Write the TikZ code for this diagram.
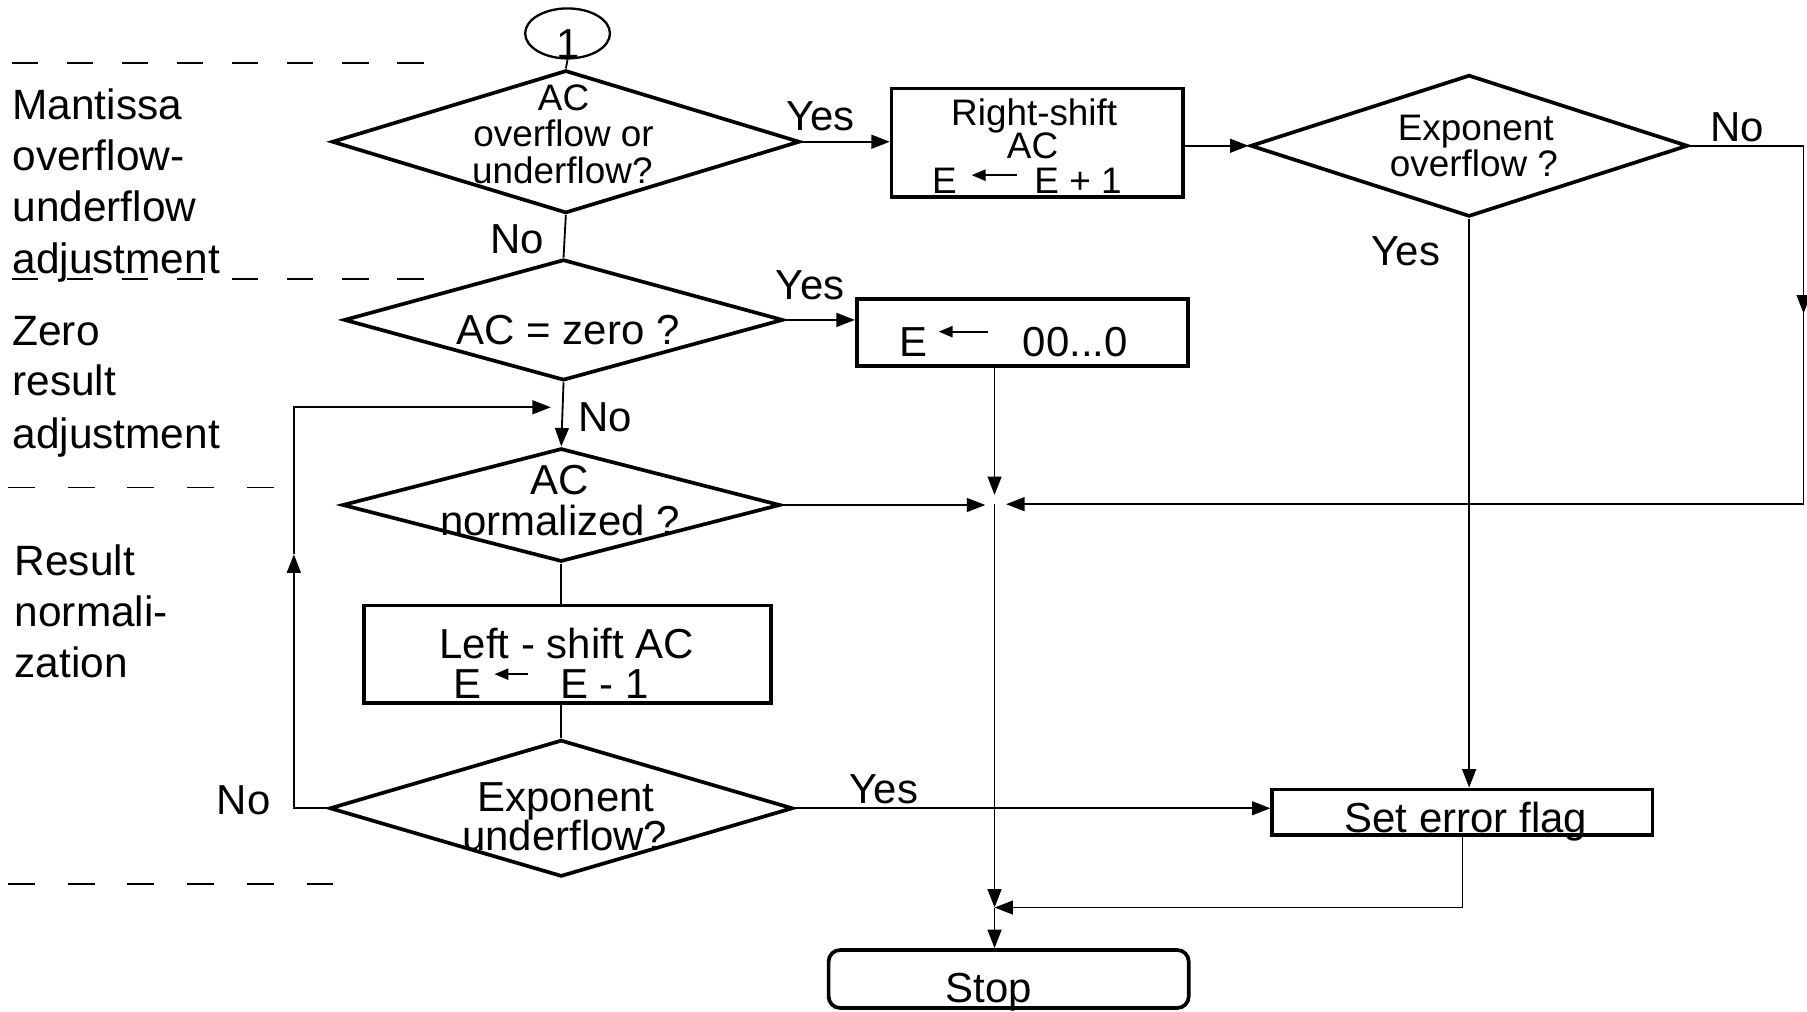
\documentclass[tikz,border=0pt]{standalone}
\usepackage{fontspec}
\setmainfont{Liberation Sans}
\usetikzlibrary{shapes.geometric,arrows.meta}

\newcommand{\setfs}[2]{\fontsize{#1}{#2}\selectfont}
\newcommand{\getsarrow}[2]{\tikz[baseline=-#2]\draw[line width=0.9pt,-{Triangle[length=6pt,width=4.8pt]}] (#1,0pt) -- (0pt,0pt);}

\tikzset{every picture/.style={line width=0.8pt}}
\tikzset{
  flowdia/.style={draw, shape=diamond, line width=1.6pt, inner sep=0pt},
  flowbox/.style={draw, shape=rectangle, line width=1.6pt, inner sep=0pt},
  conn/.style={-{Triangle[length=8pt,width=6pt]}},
  sepa/.style={dash pattern=on 11.5pt off 12.4pt},
  sepb/.style={dash pattern=on 11.6pt off 14.3pt},
  sidetxt/.style={inner sep=0pt, anchor=base west, font=\setfs{18.4}{20}},
  txtbig/.style={inner sep=0pt, anchor=base, font=\setfs{18.2}{20}},
  txtsmall/.style={inner sep=0pt, anchor=base, font=\setfs{16}{18}},
}

\begin{document}
\begin{tikzpicture}[x=0.5pt,y=0.5pt,yscale=-1,xscale=1]
\useasboundingbox (0,0) rectangle (1568,878);

%Dashed separators
\draw [sepa] (10,55) -- (368,55) ;
\draw [sepa] (10,242.4) -- (368,242.4) ;
\draw [sepb] (7,423) -- (238,423) ;
\draw [sepb] (7,767) -- (289,767) ;

%Shape: Ellipse
\node [draw, ellipse, line width=1pt, inner sep=0pt, minimum width=36.8pt, minimum height=21.7pt] (c1) at (492.5,29) {};
%Shape: Diamond
\node [flowdia, minimum width=203pt, minimum height=62pt] (d1) at (491,123) {};
%Shape: Rectangle
\node [flowbox, minimum width=126.5pt, minimum height=47pt] (b1) at (900.2,123.7) {};
%Shape: Diamond
\node [flowdia, minimum width=189.8pt, minimum height=61.5pt] (d3) at (1274.8,126.5) {};
%Shape: Diamond
\node [flowdia, minimum width=190.5pt, minimum height=52.5pt] (d2) at (489,277.6) {};
%Shape: Rectangle
\node [flowbox, minimum width=143.8pt, minimum height=28.95pt] (b2) at (887.2,288.65) {};
%Shape: Diamond
\node [flowdia, minimum width=190pt, minimum height=49.2pt] (d4) at (487,438.2) {};
%Shape: Rectangle
\node [flowbox, minimum width=176.5pt, minimum height=42.25pt] (b3) at (492.5,567.75) {};
%Shape: Diamond
\node [flowdia, minimum width=201pt, minimum height=59.35pt] (d5) at (487,701.35) {};
%Shape: Rectangle
\node [flowbox, minimum width=165pt, minimum height=19.8pt] (b4) at (1269,704.8) {};
%Shape: Rounded Rect
\node [flowbox, rounded corners=5pt, minimum width=156.25pt, minimum height=25.15pt] (stop) at (875.25,849.5) {};

%Junctions
\coordinate (jA) at (863,437.5) ;
\coordinate (jB) at (863,787.5) ;
\coordinate (rdrop) at (1565,272) ;
\coordinate (lup) at (255,481) ;
\coordinate (lin) at (478,353.4) ;

%Straight Lines
\draw (c1.south) -- (d1.north) ;
\draw [conn] (d1.east) -- (d1.east -| b1.west) ;
\draw [conn] (b1.east |- d3.west) -- (d3.west) ;
\draw [conn] (d3.east) -| (rdrop) ;
\draw [conn, shorten >=5pt] (rdrop) |- (jA) ;
\draw [conn] (d3.south) -- (d3.south |- b4.north) ;
\draw (d1.south) -- (d2.north) ;
\draw [conn] (d2.east) -- (d2.east -| b2.west) ;
\draw [conn, shorten >=4pt] (b2.south -| jA) -- (jA) ;
\draw [conn] (d2.south) -- (d4.north) ;
\draw [conn, shorten >=4pt] (d4.east) -- (d4.east -| jA) ;
\draw [conn] (jA) -- (jB) ;
\draw [conn] (b4.south) |- (jB) ;
\draw [conn] (jB) -- (jB |- stop.north) ;
\draw (d4.south) -- (d4.south |- b3.north) ;
\draw (b3.south -| d5.north) -- (d5.north) ;
\draw [conn] (d5.east) -- (d5.east -| b4.west) ;
\draw [conn] (d5.west) -| (lup) ;
\draw [conn] (lup) |- (lin) ;

% Text Node
\node [sidetxt] (mant1) at (10,104) {Mantissa};
\node [sidetxt] (mant2) at (10,148) {overflow-};
\node [sidetxt] (mant3) at (10,192.5) {underflow};
\node [sidetxt] (mant4) at (10,237) {adjustment};
% Text Node
\node [sidetxt] (zero1) at (10,299.4) {Zero};
\node [sidetxt] (zero2) at (10,343.6) {result};
\node [sidetxt] (zero3) at (10,388.8) {adjustment};
% Text Node
\node [sidetxt] (res1) at (12,499) {Result};
\node [sidetxt] (res2) at (12,543.8) {normali-};
\node [sidetxt] (res3) at (12,587.8) {zation};

% Text Node
\node [txtbig] (one) at (493,50.6) {1};
% Text Node
\node [txtsmall] (d1t1) at (489,95.5) {AC};
\node [txtsmall] (d1t2) at (489,127.5) {overflow or};
\node [txtsmall] (d1t3) at (488,159.5) {underflow?};
% Text Node
\node [txtsmall] (b1t1) at (897.4,108.5) {Right-shift};
\node [txtsmall] (b1t2) at (896,137.4) {AC};
\node [txtsmall, anchor=base west] (b1t3) at (808.5,168) {E\hspace{6pt}\getsarrow{19.5pt}{8pt}\hspace{7.3pt}E + 1};
% Text Node
\node [txtsmall] (d3t1) at (1280.5,121.5) {Exponent};
\node [txtsmall] (d3t2) at (1279,153.5) {overflow ?};
% Text Node
\node [txtbig] (d2t) at (493,298.5) {AC = zero ?};
% Text Node
\node [txtbig, anchor=base west] (b2t) at (780,309.5) {E\hspace{4.5pt}\getsarrow{21.5pt}{10.85pt}\hspace{14.5pt}00...0};
% Text Node
\node [txtbig] (d4t1) at (486,429.5) {AC};
\node [txtbig] (d4t2) at (486,464.5) {normalized ?};
% Text Node
\node [txtbig] (b3t1) at (491.7,571) {Left - shift AC};
\node [txtbig, anchor=base west] (b3t2) at (393.5,606) {E\hspace{5pt}\getsarrow{14.5pt}{10.5pt}\hspace{13.5pt}E - 1};
% Text Node
\node [txtbig] (d5t1) at (491,704.5) {Exponent};
\node [txtbig] (d5t2) at (490,738) {underflow?};
% Text Node
\node [txtbig] (b4t) at (1272,722) {Set error flag};
\node [txtbig] (stopt) at (858,870) {Stop};

% Text Node
\node [txtbig] (yes1) at (712,113) {Yes};
\node [txtbig] (no1) at (449,220) {No};
\node [txtbig] (yes2) at (703,260) {Yes};
\node [txtbig] (no2) at (525,374.6) {No};
\node [txtbig] (no3) at (1507.5,123) {No};
\node [txtbig] (yes3) at (1220,230) {Yes};
\node [txtbig] (no4) at (211.5,707) {No};
\node [txtbig] (yes4) at (767,697) {Yes};

\end{tikzpicture}
\end{document}
